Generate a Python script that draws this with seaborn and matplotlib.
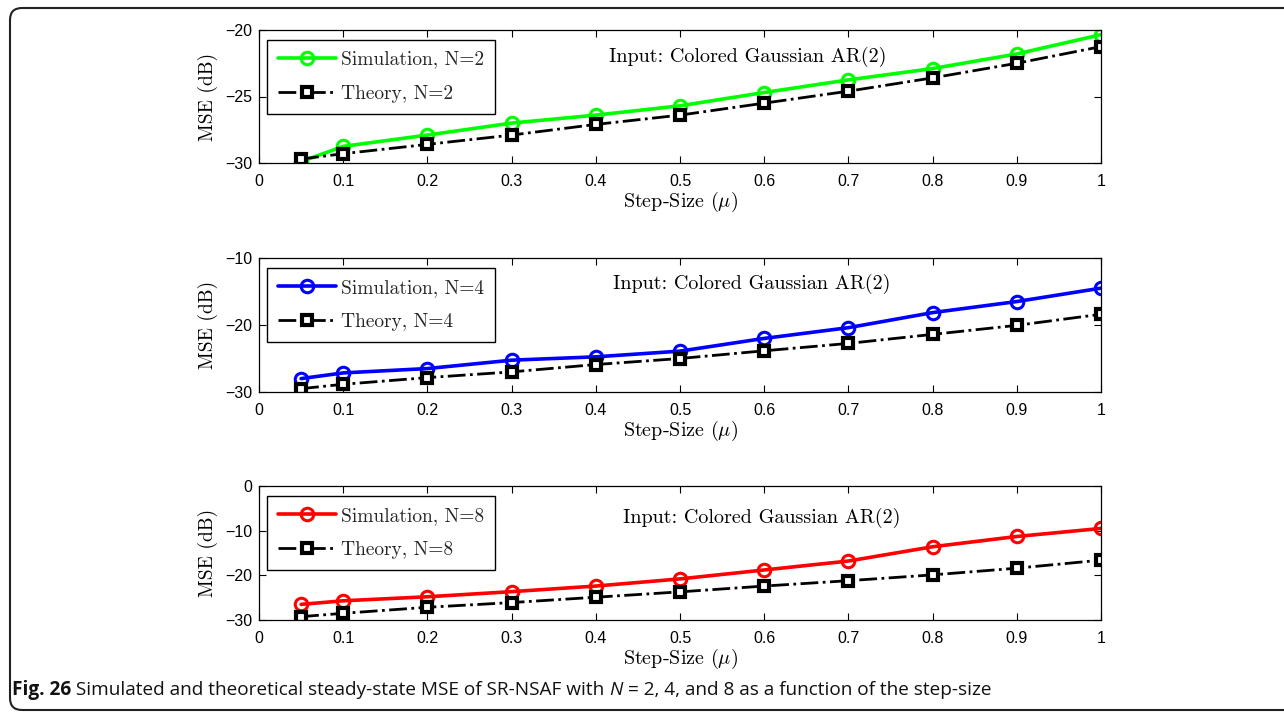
import numpy as np
import pandas as pd
import matplotlib
matplotlib.use("Agg")
import matplotlib.pyplot as plt
import seaborn as sns
from matplotlib.patches import FancyBboxPatch
from matplotlib.transforms import IdentityTransform

# ---------------- data ----------------
step_size = [0.05, 0.1, 0.2, 0.3, 0.4, 0.5, 0.6, 0.7, 0.8, 0.9, 1.0]

sim_n2 = [-29.9, -28.75, -27.9, -27.0, -26.4, -25.7, -24.7, -23.75, -22.9, -21.8, -20.35]
theory_n2 = [-29.7, -29.3, -28.6, -27.9, -27.1, -26.4, -25.5, -24.6, -23.6, -22.5, -21.25]

sim_n4 = [-28.0, -27.15, -26.5, -25.25, -24.75, -23.9, -22.0, -20.4, -18.15, -16.5, -14.5]
theory_n4 = [-29.5, -28.85, -27.85, -27.0, -25.9, -25.0, -23.85, -22.75, -21.4, -20.05, -18.4]

sim_n8 = [-26.5, -25.7, -24.8, -23.65, -22.4, -20.8, -18.8, -16.8, -13.6, -11.3, -9.5]
theory_n8 = [-29.25, -28.5, -27.15, -26.1, -24.9, -23.7, -22.4, -21.2, -19.9, -18.4, -16.6]

filter_lengths = ["2", "4", "8"]
sim_colors = ["#00ff00", "#0000ff", "#ff0000"]
y_limits = [(-30, -20), (-30, -10), (-30, 0)]
y_ticks = [[-30, -25, -20], [-30, -20, -10], [-30, -20, -10, 0]]
x_ticks = [0, 0.1, 0.2, 0.3, 0.4, 0.5, 0.6, 0.7, 0.8, 0.9, 1]
x_tick_labels = ["0", "0.1", "0.2", "0.3", "0.4", "0.5", "0.6", "0.7", "0.8", "0.9", "1"]
annotation = "Input: Colored Gaussian AR(2)"
x_label = r"Step-Size ($\mu$)"
y_label = "MSE (dB)"
caption_bold = "Fig. 26"
caption_parts = [(" Simulated and theoretical steady-state MSE of SR-NSAF with ", "normal"),
                 ("N", "italic"),
                 (" = 2, 4, and 8 as a function of the step-size", "normal")]

sims = [sim_n2, sim_n4, sim_n8]
theories = [theory_n2, theory_n4, theory_n8]

# ---------------- style ----------------
sns.set_theme(style="white")
plt.rcParams["font.family"] = ["Liberation Sans", "DejaVu Sans"]
plt.rcParams["mathtext.fontset"] = "cm"
plt.rcParams["axes.unicode_minus"] = True

serif = "cmr10"

fig = plt.figure(figsize=(12.84, 7.12), dpi=100)

W, H = 1284, 712
left_px, right_px = 259, 1101
axes_px = [(30, 163), (258, 392), (486, 620)]
text_pos = [(0.58, 0.80), (0.585, 0.81), (0.597, 0.76)]

for i in range(3):
    top, bot = axes_px[i]
    ax = fig.add_axes([left_px / W, 1 - bot / H, (right_px - left_px) / W, (bot - top) / H])
    df = pd.DataFrame({"mu": step_size, "sim": sims[i], "theory": theories[i]})
    sns.lineplot(data=df, x="mu", y="sim", ax=ax, color=sim_colors[i], linewidth=2.6,
                 marker="o", markersize=9, markerfacecolor="none", markeredgecolor=sim_colors[i],
                 markeredgewidth=2.2, label=f"Simulation, N={filter_lengths[i]}")
    sns.lineplot(data=df, x="mu", y="theory", ax=ax, color="black", linewidth=2.0,
                 linestyle="-.", marker="s", markersize=7.5, markerfacecolor="white",
                 markeredgecolor="black", markeredgewidth=3.0,
                 label=f"Theory, N={filter_lengths[i]}")
    ax.set_xlim(0, 1)
    ax.set_ylim(*y_limits[i])
    ax.set_xticks(x_ticks)
    ax.set_xticklabels(x_tick_labels)
    ax.set_yticks(y_ticks[i])
    ax.tick_params(direction="in", top=True, right=True, bottom=True, left=True,
                   length=5, width=0.8, color="black", labelsize=11.5, labelcolor="black")
    ax.tick_params(axis="x", pad=8)
    ax.tick_params(axis="y", pad=5)
    for s in ax.spines.values():
        s.set_color("black")
        s.set_linewidth(0.9)
    ax.set_xlabel(x_label, family=serif, fontsize=14.5, labelpad=0.5, color="black")
    ax.set_ylabel(y_label, family=serif, fontsize=14, labelpad=5, color="black")
    ax.text(text_pos[i][0], text_pos[i][1], annotation, transform=ax.transAxes,
            ha="center", va="center", family=serif, fontsize=14.5, color="black")
    leg = ax.legend(loc="upper left", bbox_to_anchor=(0.0095, 0.925), borderaxespad=0,
                    fancybox=False, frameon=True, edgecolor="black", framealpha=1,
                    prop={"family": serif, "size": 14}, handlelength=3.0,
                    handletextpad=0.25, labelspacing=0.85, borderpad=0.55)
    leg.get_frame().set_linewidth(1.0)

# outer rounded frame
frame = FancyBboxPatch((10, 2), 1320, 702, boxstyle="round,pad=0,rounding_size=12",
                       transform=IdentityTransform(), facecolor="none",
                       edgecolor="#222222", linewidth=1.5)
fig.patches.append(frame)

# caption
renderer = fig.canvas.get_renderer()
cap_y = 1 - 690 / H
cap_size = 13.7
t = fig.text(12 / W, cap_y, caption_bold, fontsize=cap_size, fontweight="bold",
             family=["Open Sans", "DejaVu Sans"], va="center", ha="left", color="#111111")
x_cur = t.get_window_extent(renderer).x1
for txt, style in caption_parts:
    t = fig.text(x_cur / W, cap_y, txt, fontsize=cap_size, fontstyle=style,
                 family=["Open Sans", "DejaVu Sans"], va="center", ha="left", color="#111111")
    x_cur = t.get_window_extent(renderer).x1

fig.savefig("out.png", dpi=100)
